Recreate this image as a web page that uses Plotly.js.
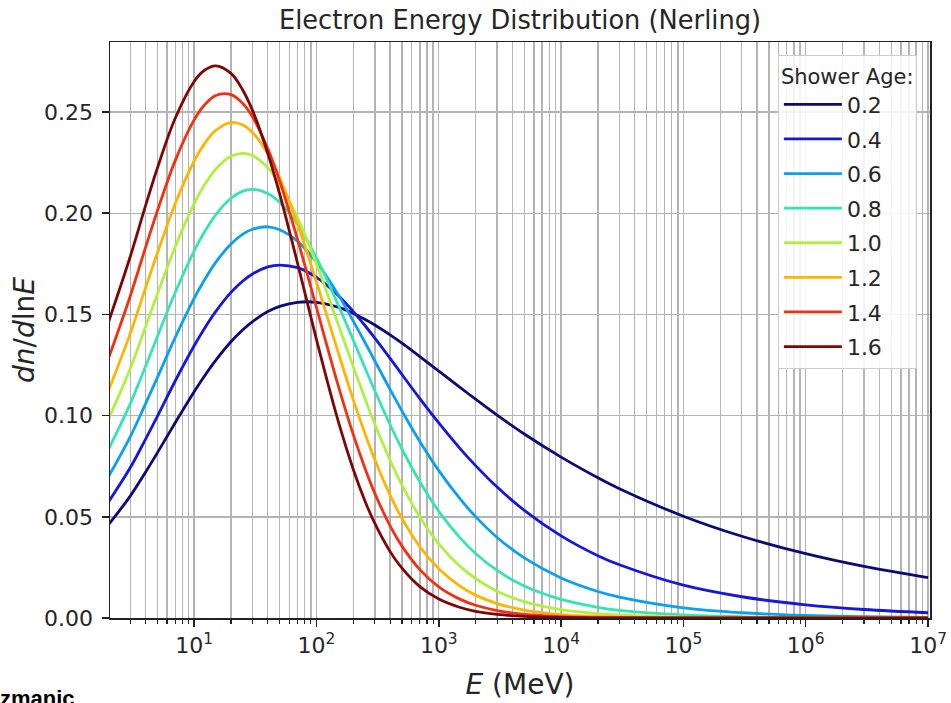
<!DOCTYPE html>
<html>
<head>
<meta charset="utf-8">
<script src="https://cdn.plot.ly/plotly-3.0.1.min.js"></script>
<style>
html,body{margin:0;padding:0;background:#ffffff;}
#chart{width:951px;height:703px;}
</style>
</head>
<body>
<div id="chart"></div>
<script>
// Energy sample points (MeV)
const energyMeV = [2, 3, 4, 5, 7, 10, 12, 15, 20, 25, 30, 40, 50, 70, 100, 150, 200, 250, 300, 400, 500, 700, 1000, 1500, 2000, 3000, 5000, 1e4, 2e4, 3e4, 1e5, 3e5, 1e6, 3e6, 1e7];

// dn/dlnE, one array per shower age
const age02 = [0.0462, 0.0602, 0.0720, 0.0816, 0.0965, 0.1118, 0.1191, 0.1273, 0.1365, 0.1424, 0.1464, 0.1514, 0.1540, 0.1560, 0.1560, 0.1536, 0.1505, 0.1475, 0.1448, 0.1399, 0.1358, 0.1292, 0.1220, 0.1138, 0.1081, 0.1002, 0.0909, 0.0795, 0.0693, 0.0639, 0.0503, 0.0404, 0.0318, 0.0255, 0.0200];
const age04 = [0.0575, 0.0742, 0.0883, 0.0996, 0.1171, 0.1345, 0.1426, 0.1514, 0.1609, 0.1665, 0.1700, 0.1735, 0.1744, 0.1731, 0.1683, 0.1595, 0.1514, 0.1444, 0.1383, 0.1283, 0.1203, 0.1084, 0.0964, 0.0836, 0.0753, 0.0647, 0.0532, 0.0406, 0.0308, 0.0263, 0.0162, 0.0105, 0.0065, 0.0042, 0.0026];
const age06 = [0.0700, 0.0895, 0.1058, 0.1188, 0.1386, 0.1579, 0.1665, 0.1757, 0.1848, 0.1897, 0.1921, 0.1933, 0.1918, 0.1861, 0.1758, 0.1599, 0.1467, 0.1360, 0.1270, 0.1129, 0.1023, 0.0872, 0.0728, 0.0587, 0.0501, 0.0398, 0.0297, 0.0198, 0.0131, 0.0103, 0.0050, 0.0026, 0.0013, 0.00065, 0.00032];
const age08 = [0.0835, 0.1058, 0.1243, 0.1390, 0.1608, 0.1814, 0.1902, 0.1992, 0.2074, 0.2109, 0.2118, 0.2098, 0.2054, 0.1944, 0.1779, 0.1549, 0.1373, 0.1234, 0.1123, 0.0955, 0.0835, 0.0673, 0.0527, 0.0395, 0.0319, 0.0235, 0.0158, 0.0092, 0.0053, 0.0038, 0.0015, 0.0006, 0.00023, 0.0001, 0.00004];
const age10 = [0.0985, 0.1232, 0.1438, 0.1600, 0.1834, 0.2047, 0.2134, 0.2217, 0.2281, 0.2296, 0.2285, 0.2225, 0.2146, 0.1977, 0.1749, 0.1454, 0.1242, 0.1082, 0.0957, 0.0779, 0.0656, 0.0499, 0.0366, 0.0254, 0.0195, 0.0132, 0.0081, 0.0041, 0.0021, 0.0014, 0.0004, 0.00014, 0.00004, 0.00001, 0.000004];
const age12 = [0.1125, 0.1405, 0.1630, 0.1802, 0.2047, 0.2258, 0.2339, 0.2409, 0.2448, 0.2436, 0.2399, 0.2294, 0.2175, 0.1947, 0.1660, 0.1315, 0.1078, 0.0909, 0.0782, 0.0607, 0.0492, 0.0352, 0.0243, 0.0156, 0.0113, 0.0071, 0.0039, 0.0017, 0.00076, 0.00047, 0.00011, 0.00003, 0.000007, 0.000002, 0.0000005];
const age14 = [0.1285, 0.1590, 0.1830, 0.2011, 0.2260, 0.2461, 0.2531, 0.2582, 0.2586, 0.2542, 0.2476, 0.2319, 0.2159, 0.1871, 0.1533, 0.1152, 0.0906, 0.0738, 0.0616, 0.0455, 0.0355, 0.0239, 0.0154, 0.0092, 0.0063, 0.0037, 0.0018, 0.0007, 0.00027, 0.00015, 0.00003, 0.000006, 0.000001, 0.0000002, 0.00000005];
const age16 = [0.1465, 0.1785, 0.2036, 0.2222, 0.2469, 0.2651, 0.2704, 0.2728, 0.2691, 0.2608, 0.2508, 0.2296, 0.2095, 0.1753, 0.1375, 0.0976, 0.0734, 0.0576, 0.0467, 0.0328, 0.0246, 0.0155, 0.0094, 0.0052, 0.0033, 0.0018, 0.0008, 0.00027, 0.00009, 0.00005, 0.000007, 0.000001, 0.0000002, 0.00000003, 0.000000005];

const showerAges = ['0.2', '0.4', '0.6', '0.8', '1.0', '1.2', '1.4', '1.6'];
const seriesList = [age02, age04, age06, age08, age10, age12, age14, age16];
const lineColors = ['#0a0a78', '#1616dc', '#0aa0f0', '#34e4b4', '#b0f040', '#ffb400', '#f53010', '#800606'];

// x-axis major tick positions and labels
const xTickVals = [10, 100, 1000, 1e4, 1e5, 1e6, 1e7];
const xTickText = ['10<sup>1</sup>', '10<sup>2</sup>', '10<sup>3</sup>', '10<sup>4</sup>', '10<sup>5</sup>', '10<sup>6</sup>', '10<sup>7</sup>'];

const traces = seriesList.map((vals, i) => ({
  type: 'scatter',
  mode: 'lines',
  x: energyMeV,
  y: vals,
  name: showerAges[i],
  legendgroup: 'g' + i,
  line: {color: lineColors[i], width: 2.8, shape: 'spline', smoothing: 1},
  hoverinfo: 'skip'
}));

const axisColor = '#222222';
const gridColor = '#b4b4b4';

const layout = {
  width: 951,
  height: 703,
  margin: {l: 110, r: 21, t: 42, b: 85},
  paper_bgcolor: '#ffffff',
  plot_bgcolor: '#ffffff',
  font: {family: 'DejaVu Sans, sans-serif', size: 22, color: '#262626'},
  title: {
    text: 'Electron Energy Distribution (Nerling)',
    font: {size: 25.7, color: '#262626'},
    x: 0.5, xref: 'paper', xanchor: 'center',
    y: 0.971, yref: 'container', yanchor: 'middle'
  },
  showlegend: true,
  xaxis: {
    type: 'log',
    range: [0.312, 7.016],
    tickmode: 'array',
    tickvals: xTickVals,
    ticktext: xTickText,
    ticklabeloverflow: 'allow',
    ticks: 'outside', ticklen: 7, tickwidth: 1.5, tickcolor: axisColor,
    showline: true, linecolor: axisColor, linewidth: 1.5, mirror: true,
    showgrid: true, gridcolor: gridColor, gridwidth: 1.4,
    zeroline: false,
    minor: {tickmode: 'linear', tick0: 0, dtick: 'D1', ticks: 'outside', ticklen: 4, tickwidth: 1.2, tickcolor: axisColor,
            showgrid: true, gridcolor: gridColor, gridwidth: 1.4},
    title: {text: '<i>E</i> (MeV)', font: {size: 28}, standoff: 17},
    automargin: false
  },
  yaxis: {
    range: [0, 0.2846],
    tick0: 0, dtick: 0.05,
    tickformat: '.2f',
    ticks: 'outside', ticklen: 7, tickwidth: 1.5, tickcolor: axisColor,
    ticklabelstandoff: 4,
    showline: true, linecolor: axisColor, linewidth: 1.5, mirror: true,
    showgrid: true, gridcolor: gridColor, gridwidth: 1.4,
    zeroline: false,
    title: {text: '<i>dn</i>/<i>d</i>ln<i>E</i>', font: {size: 28}, standoff: 1},
    automargin: false
  },
  legend: {
    x: 0.984, xanchor: 'right',
    y: 0.977, yanchor: 'top',
    bgcolor: 'rgba(255,255,255,0.85)',
    bordercolor: '#cccccc', borderwidth: 1,
    font: {size: 22, color: '#262626'},
    title: {text: 'Shower Age:', font: {size: 21, color: '#262626'}},
    traceorder: 'grouped',
    tracegroupgap: 3,
    itemwidth: 58
  },
  annotations: [{
    text: '<b>zmanic</b>',
    xref: 'paper', yref: 'paper',
    x: -0.136, y: -0.139,
    xanchor: 'left', yanchor: 'middle',
    showarrow: false,
    font: {family: 'Liberation Sans, Arial, sans-serif', size: 22, color: '#000000'}
  }]
};

Plotly.newPlot('chart', traces, layout, {displayModeBar: false, staticPlot: true});
</script>
</body>
</html>
